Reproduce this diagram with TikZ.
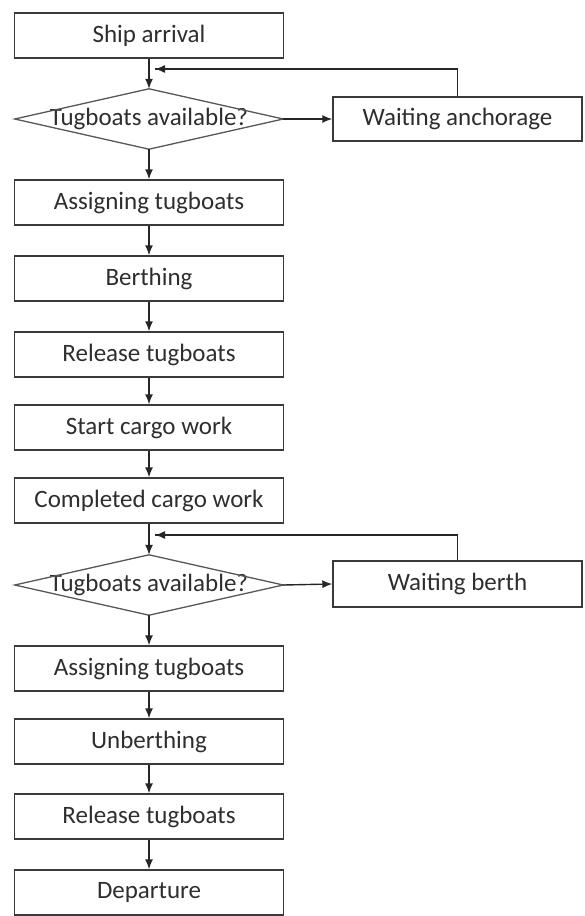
\documentclass[tikz,border=0pt]{standalone}
\usepackage{fontspec}
\setmainfont{Carlito}
\usetikzlibrary{arrows.meta}
\definecolor{edge}{HTML}{3A3A3A}
\definecolor{ink}{HTML}{2E2E2E}
\begin{document}
\begin{tikzpicture}[x=1pt,y=-1pt,
  stepbox/.style={draw=edge,line width=1.4pt,minimum width=269pt,minimum height=45pt,inner sep=0pt,text=ink,font=\fontsize{25}{28}\selectfont},
  waitbox/.style={stepbox,minimum width=249pt,minimum height=44pt},
  decbox/.style={minimum width=268pt,minimum height=60pt,inner sep=0pt,text=ink,font=\fontsize{25}{28}\selectfont},
  arr/.style={draw=black!85,line width=1.4pt,-{Latex[length=10pt,width=8pt]}},
  ln/.style={draw=black!85,line width=1.4pt}]
\useasboundingbox (0,0) rectangle (584,916);
\node[stepbox] (ship) at (149,35.5) {Ship arrival};
\node[decbox] (d1) at (149,119) {Tugboats available?};
\draw[edge!85,line width=1.3pt] (d1.west)--(d1.north)--(d1.east)--(d1.south)--cycle;
\node[waitbox] (wa) at (457.5,119) {Waiting anchorage};
\node[stepbox] (a1) at (149,202.5) {Assigning tugboats};
\node[stepbox] (b1) at (149,278.5) {Berthing};
\node[stepbox] (r1) at (149,354.5) {Release tugboats};
\node[stepbox] (s1) at (149,427.5) {Start cargo work};
\node[stepbox] (c1) at (149,500.5) {Completed cargo work};
\node[decbox] (d2) at (149,585) {Tugboats available?};
\draw[edge!85,line width=1.3pt] (d2.west)--(d2.north)--(d2.east)--(d2.south)--cycle;
\node[waitbox,minimum height=46pt] (wb) at (457.5,584) {Waiting berth};
\node[stepbox] (a2) at (149,668.5) {Assigning tugboats};
\node[stepbox] (u1) at (149,741.5) {Unberthing};
\node[stepbox] (r2) at (149,816.5) {Release tugboats};
\node[stepbox] (dep) at (149,892.5) {Departure};
\coordinate (f1) at (155,69);
\coordinate (f2) at (155,535);
% main flow
\draw[arr] (ship.south) -- (d1.north);
\draw[arr] (d1.east) -- (wa.west);
\draw[ln] (wa.north) |- (f1);
\draw[arr] ([xshift=10pt]f1) -- (f1);
\draw[arr] (d1.south) -- (a1.north);
\draw[arr] (a1.south) -- (b1.north);
\draw[arr] (b1.south) -- (r1.north);
\draw[arr] (r1.south) -- (s1.north);
\draw[arr] (s1.south) -- (c1.north);
\draw[arr] (c1.south) -- (d2.north);
\draw[arr] (d2.east) -- (wb.west);
\draw[ln] (wb.north) |- (f2);
\draw[arr] ([xshift=10pt]f2) -- (f2);
\draw[arr] (d2.south) -- (a2.north);
\draw[arr] (a2.south) -- (u1.north);
\draw[arr] (u1.south) -- (r2.north);
\draw[arr] (r2.south) -- (dep.north);
\end{tikzpicture}
\end{document}
